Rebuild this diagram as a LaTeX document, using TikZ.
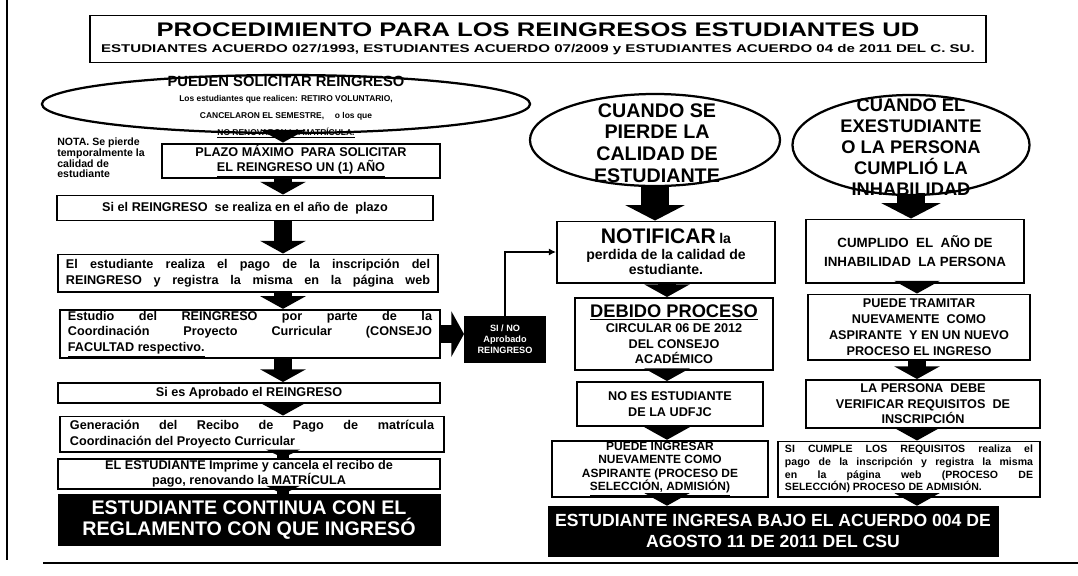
\documentclass[tikz,border=0pt]{standalone}
\usepackage{fontspec}
\setmainfont{Liberation Sans}
\usepackage{graphicx}
\usetikzlibrary{shapes.geometric,arrows.meta}
\newcommand{\tam}[2]{\fontsize{#1}{#2}\selectfont}
\newcommand{\ancho}[2]{\scalebox{#1}[1]{#2}}

\begin{document}
\begin{tikzpicture}[x=0.025cm,y=-0.025cm,
  caja/.style={draw,line width=1.4pt,fill=white,align=center,inner sep=1pt,font=\bfseries\tam{9}{11}},
  negra/.style={draw,fill=black,text=white,align=center,inner sep=1pt,font=\bfseries\tam{14}{15.5}},
  elipse/.style={draw,ellipse,line width=1.6pt,inner sep=0pt},
  flecha/.style={line width=13pt,-{Triangle[length=9pt,width=32pt]}},
  flechita/.style={line width=9pt,-{Triangle[length=6pt,width=24pt]}},
  gruesa/.style={line width=20pt,-{Triangle[length=11pt,width=42pt]}},
  linea/.style={line width=1.2pt,-{Latex[length=5pt,width=5pt]}}]
\useasboundingbox (0,0) rectangle (1078,575);

% marco
\draw[line width=1pt] (7,0) -- (7,560);
\draw[line width=1.2pt] (43,563) -- (1078,563);

\node[caja,minimum width=22.4cm,minimum height=1.175cm,font=\bfseries] (titulo) at (538,39)
  {\ancho{1.3}{\tam{14}{16}PROCEDIMIENTO PARA LOS REINGRESOS ESTUDIANTES UD}\\[-1pt]
   \ancho{1.34}{\tam{8}{9}ESTUDIANTES ACUERDO 027/1993, ESTUDIANTES ACUERDO 07/2009 y ESTUDIANTES ACUERDO 04 de 2011 DEL C. SU.}};

% columna izquierda
\node[elipse,minimum width=12.2cm,minimum height=1.45cm] (e1) at (286,104) {};
\node[align=center,font=\bfseries,inner sep=0pt] (e1t) at (286,107)
  {\tam{10.5}{12}PUEDEN SOLICITAR REINGRESO\\[-1pt]
   \tam{6}{9}Los estudiantes que realicen: RETIRO VOLUNTARIO,\\
   \tam{6}{9}CANCELARON EL SEMESTRE, \quad o los que\\
   \tam{6}{9}\underline{NO RENOVARON LA MATRÍCULA.}};
\node[align=left,font=\bfseries\tam{7.5}{7.5},inner sep=0pt] (nota) at (101,158)
  {NOTA. Se pierde\\ temporalmente la\\ calidad de\\ estudiante};

\node[caja,minimum width=6.925cm,minimum height=0.725cm] (plazo) at (301,161)
  {PLAZO MÁXIMO \ PARA SOLICITAR\\ \underline{EL REINGRESO UN (1) AÑO}};
\node[caja,minimum width=9.4cm,minimum height=0.625cm] (siel) at (245,208)
  {Si el REINGRESO \ se realiza en el año de \ plazo};
\node[caja,minimum width=9.5cm,minimum height=0.925cm] (pago) at (248,273)
  {\makebox[9.1cm][s]{El estudiante realiza el pago de la inscripción del}\\
   \makebox[9.1cm][s]{REINGRESO y registra la misma en la página web}};
\node[caja,minimum width=9.5cm,minimum height=1.2cm] (estudio) at (250,334)
  {\makebox[9.1cm][s]{Estudio del REINGRESO por parte de la}\\
   \makebox[9.1cm][s]{Coordinación Proyecto Curricular (CONSEJO}\\
   \makebox[9.1cm][l]{\underline{FACULTAD respectivo.}}};
\node[caja,minimum width=9.55cm,minimum height=0.5cm] (aprobado) at (249,393)
  {Si es Aprobado el REINGRESO};
\node[caja,minimum width=9.6cm,minimum height=0.875cm] (generacion) at (252,434)
  {\makebox[9.1cm][s]{Generación del Recibo de Pago de matrícula}\\
   \makebox[9.1cm][l]{Coordinación del Proyecto Curricular}};
\node[caja,minimum width=9.55cm,minimum height=0.65cm] (imprime) at (249,474)
  {EL ESTUDIANTE Imprime y cancela el recibo de\\ pago, renovando la MATRÍCULA};
\node[negra,minimum width=9.55cm,minimum height=1.275cm] (final1) at (249,520)
  {ESTUDIANTE CONTINUA CON EL\\ REGLAMENTO CON QUE INGRESÓ};

\node[caja,fill=black,text=white,font=\bfseries\tam{6.5}{8},minimum width=2cm,minimum height=1.125cm] (decision) at (505,339)
  {SI / NO\\ Aprobado\\ REINGRESO};

% columna central
\node[elipse,minimum width=6.25cm,minimum height=2.3cm] (e2) at (655,140) {};
\node[align=center,font=\bfseries\tam{14}{15.5},inner sep=0pt] (e2t) at (657,143)
  {CUANDO SE\\ PIERDE LA\\ CALIDAD DE\\ ESTUDIANTE};
\node[caja,minimum width=5.45cm,minimum height=1.525cm] (notificar) at (666,252)
  {{\tam{15}{17}NOTIFICAR} {\tam{10}{12}la}\\ \tam{10}{12.5}perdida de la calidad de\\ \tam{10}{12.5}estudiante.};
\node[caja,minimum width=4.95cm,minimum height=1.8cm] (debido) at (674,334)
  {{\tam{13}{14}\underline{DEBIDO PROCESO}}\\ CIRCULAR 06 DE 2012\\ DEL CONSEJO\\ ACADÉMICO};
\node[caja,minimum width=4.625cm,minimum height=1.1cm] (noes) at (670,404)
  {NO ES ESTUDIANTE\\ DE LA UDFJC};
\node[caja,font=\bfseries\tam{8.5}{9.5},minimum width=5.375cm,minimum height=1.375cm] (puede) at (660,469)
  {PUEDE INGRESAR\\ NUEVAMENTE COMO\\ ASPIRANTE (PROCESO DE\\ \underline{SELECCIÓN, ADMISIÓN)}};

% columna derecha
\node[elipse,minimum width=5.925cm,minimum height=2.5cm] (e3) at (911,145) {};
\node[align=center,font=\bfseries\tam{13}{15},inner sep=0pt] (e3t) at (911,147)
  {CUANDO EL\\ EXESTUDIANTE\\ O LA PERSONA\\ CUMPLIÓ LA\\ INHABILIDAD};
\node[caja,font=\bfseries\tam{9.5}{13},minimum width=5.425cm,minimum height=1.575cm] (cumplido) at (915,251)
  {CUMPLIDO \ EL \ AÑO DE\\ INHABILIDAD \ LA PERSONA};
\node[caja,font=\bfseries\tam{9}{11.3},minimum width=5.55cm,minimum height=1.625cm] (tramitar) at (919,327)
  {PUEDE TRAMITAR\\ NUEVAMENTE \ COMO\\ ASPIRANTE \ Y EN UN NUEVO\\ PROCESO EL INGRESO};
\node[caja,minimum width=5.85cm,minimum height=1.2cm] (persona) at (923,404)
  {LA PERSONA \ DEBE\\ VERIFICAR REQUISITOS \ DE\\ INSCRIPCIÓN};
\node[caja,font=\bfseries\tam{7.5}{9},minimum width=6.55cm,minimum height=1.375cm] (cumple) at (909,469)
  {\makebox[6.2cm][s]{SI CUMPLE LOS REQUISITOS realiza el}\\
   \makebox[6.2cm][s]{pago de la inscripción y registra la misma}\\
   \makebox[6.2cm][s]{en la página web (PROCESO DE}\\
   \makebox[6.2cm][l]{SELECCIÓN) PROCESO DE ADMISIÓN.}};
\node[negra,font=\bfseries\tam{12.5}{15},minimum width=11.25cm,minimum height=1.25cm] (final2) at (773,531)
  {ESTUDIANTE INGRESA BAJO EL ACUERDO 004 DE\\ AGOSTO 11 DE 2011 DEL CSU};

\coordinate (ejeA) at (283,0);
\coordinate (ejeB) at (667,0);
\coordinate (ejeC) at (917,0);

% flechas
\draw[flecha,shorten <=2pt] (e1.south -| ejeA) -- (plazo.north -| ejeA);
\draw[flecha] (plazo.south -| ejeA) -- (siel.north -| ejeA);
\draw[flecha] (siel.south -| ejeA) -- (pago.north -| ejeA);
\draw[flecha] (pago.south -| ejeA) -- (estudio.north -| ejeA);
\draw[flecha] (estudio.south -| ejeA) -- (aprobado.north -| ejeA);
\draw[flecha,shorten <=-3pt] (aprobado.south -| ejeA) -- (generacion.north -| ejeA);
\draw[flechita,shorten <=-4pt] (generacion.south -| ejeA) -- (imprime.north -| ejeA);
\draw[flechita,shorten <=-5pt] (imprime.south -| ejeA) -- (final1.north -| ejeA);
\draw[flecha] (estudio.east) -- (estudio.east -| decision.west);
\draw[linea] (decision.north) |- (notificar.west);

\draw[gruesa] (e2.south) -- (e2.south |- notificar.north);
\draw[flecha] (notificar.south -| ejeB) -- (debido.north -| ejeB);
\draw[flecha] (debido.south -| ejeB) -- (noes.north -| ejeB);
\draw[flecha] (noes.south -| ejeB) -- (puede.north -| ejeB);
\draw[flecha] (puede.south -| ejeB) -- (final2.north -| ejeB);

\draw[gruesa] (e3.south) -- (e3.south |- cumplido.north);
\draw[flecha] (cumplido.south -| ejeC) -- (tramitar.north -| ejeC);
\draw[flecha] (tramitar.south -| ejeC) -- (persona.north -| ejeC);
\draw[flecha] (persona.south -| ejeC) -- (cumple.north -| ejeC);
\draw[flecha] (cumple.south -| ejeC) -- (final2.north -| ejeC);
\end{tikzpicture}
\end{document}
